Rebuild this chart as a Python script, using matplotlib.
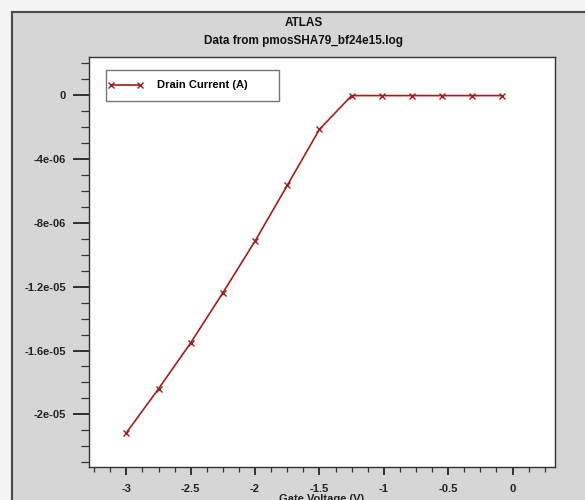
import matplotlib
matplotlib.use('Agg')
import numpy as np
from matplotlib import pyplot as plt
from matplotlib.patches import Rectangle
from matplotlib.ticker import MultipleLocator

# data
gate_voltage = [-3.0, -2.75, -2.5, -2.25, -2.0, -1.75, -1.5, -1.25,
                -1.017, -0.783, -0.55, -0.317, -0.083]
drain_current = [-21.16e-6, -18.40e-6, -15.52e-6, -12.38e-6, -9.14e-6,
                 -5.65e-6, -2.14e-6, -0.02e-6,
                 -0.02e-6, -0.02e-6, -0.02e-6, -0.02e-6, -0.02e-6]

x_ticks = [-3, -2.5, -2, -1.5, -1, -0.5, 0]
x_tick_labels = ['-3', '-2.5', '-2', '-1.5', '-1', '-0.5', '0']
y_ticks = [0, -4e-6, -8e-6, -1.2e-5, -1.6e-5, -2e-5]
y_tick_labels = ['0', '-4e-06', '-8e-06', '-1.2e-05', '-1.6e-05', '-2e-05']

title_1 = 'ATLAS'
title_2 = 'Data from pmosSHA79_bf24e15.log'
x_label = 'Gate Voltage (V)'
series_label = 'Drain Current (A)'


def main():
    plt.rcParams['font.family'] = ['Liberation Sans', 'DejaVu Sans']
    plt.rcParams['axes.unicode_minus'] = False

    W, H = 585, 500
    fig = plt.figure(figsize=(W / 100, H / 100), dpi=100)
    fig.patch.set_facecolor('#f4f4f4')

    # grey panel with dark border, running off the right/bottom edge
    fig.patches.append(Rectangle((12 / W, -0.1), 1.2, 1 - 12 / H + 0.1,
                                 transform=fig.transFigure, facecolor='#d6d6d6',
                                 edgecolor='#4a4a4a', linewidth=1.5, zorder=-5))

    fig.text(304 / W, 1 - 23 / H, title_1, ha='center', va='center',
             fontsize=8.5, fontweight='bold', color='#111111')
    fig.text(304 / W, 1 - 41 / H, title_2, ha='center', va='center',
             fontsize=8.5, fontweight='bold', color='#111111')

    left, right, top, bottom = 89, 555, 57, 467
    ax = fig.add_axes([left / W, 1 - bottom / H, (right - left) / W, (bottom - top) / H])
    ax.set_zorder(2)
    ax.set_facecolor('white')
    for s in ax.spines.values():
        s.set_color('#333333')
        s.set_linewidth(1.0)

    ax.plot(gate_voltage, drain_current, color='#a51c1c', linewidth=1.2,
            marker='x', markersize=5, markeredgewidth=1.0, label=series_label)

    ax.set_xlim(-3.29, 0.33)
    ax.set_ylim(-23.3e-6, 2.4e-6)

    ax.set_xticks(x_ticks)
    ax.set_xticklabels(x_tick_labels)
    ax.set_yticks(y_ticks)
    ax.set_yticklabels(y_tick_labels)
    ax.xaxis.set_minor_locator(MultipleLocator(0.125))
    ax.yaxis.set_minor_locator(MultipleLocator(1e-6))

    ax.tick_params(axis='x', which='major', direction='out', length=6, width=1.3,
                   labelsize=8, pad=6, colors='#222222')
    ax.tick_params(axis='x', which='minor', direction='out', length=3.3, width=0.9,
                   colors='#333333')
    ax.tick_params(axis='y', which='major', direction='out', length=11.5, width=1.3,
                   labelsize=8, pad=5, colors='#222222')
    ax.tick_params(axis='y', which='minor', direction='out', length=5.8, width=0.9,
                   colors='#333333')
    for lab in ax.get_xticklabels() + ax.get_yticklabels():
        lab.set_fontweight('bold')

    # legend frame drawn by hand, it is wider than matplotlib's default box
    ax.add_patch(Rectangle(((106 - left) / (right - left), (bottom - 101) / (bottom - top)),
                           173 / (right - left), 31 / (bottom - top),
                           transform=ax.transAxes, facecolor='white',
                           edgecolor='#777777', linewidth=1.0, zorder=3))
    leg = ax.legend(loc='center left',
                    bbox_to_anchor=((108 - left) / (right - left),
                                    (bottom - 85.5) / (bottom - top)),
                    frameon=False, numpoints=2, handlelength=3.2,
                    handletextpad=1.2, borderaxespad=0, borderpad=0,
                    prop={'size': 8, 'weight': 'bold'})
    leg.set_zorder(4)

    # axis title sits at the bottom edge, partly cut as in the original crop
    fig.text(322 / W, 1 - 494.5 / H, x_label, ha='center', va='top',
             fontsize=8, fontweight='bold', color='#222222')

    fig.savefig('out.png', dpi=100, facecolor=fig.get_facecolor())


if __name__ == '__main__':
    main()
